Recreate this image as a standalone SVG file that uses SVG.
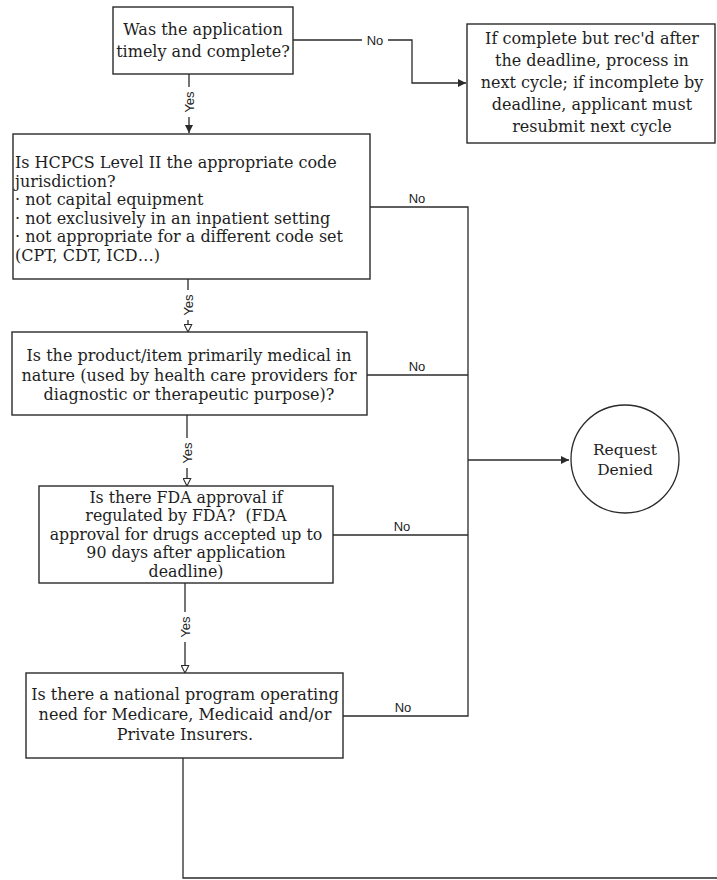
<svg xmlns="http://www.w3.org/2000/svg" width="717" height="880" viewBox="0 0 717 880">
<style>
.box{fill:#fff;stroke:#2a2a2a;stroke-width:1.4}
.t{font-family:"DejaVu Serif","Liberation Serif",serif;font-size:16px;fill:#1e1e1e}
.c{text-anchor:middle}
.lbl{font-family:"Liberation Sans",Arial,sans-serif;font-size:13px;fill:#222}
.ln{fill:none;stroke:#2a2a2a;stroke-width:1.3}
</style>
<defs>
<marker id="af" viewBox="0 0 10 10" refX="10" refY="5" markerWidth="8" markerHeight="8" markerUnits="userSpaceOnUse" orient="auto"><path d="M0,0 L10,5 L0,10 z" fill="#2a2a2a"/></marker>
<marker id="ao" viewBox="0 0 12 12" refX="11" refY="6" markerWidth="9" markerHeight="9" markerUnits="userSpaceOnUse" orient="auto"><path d="M1,1 L11,6 L1,11 z" fill="#fff" stroke="#2a2a2a" stroke-width="1.4"/></marker>
</defs>
<rect width="717" height="880" fill="#fff"/>

<g id="connectors">
  <path class="ln" d="M293,40 H362"/>
  <path class="ln" d="M388,40 H412 V83 H466" marker-end="url(#af)"/>
  <text class="lbl c" x="375" y="45">No</text>
  <path class="ln" d="M189,74 V87"/>
  <path class="ln" d="M189,117 V133" marker-end="url(#af)"/>
  <text class="lbl c" transform="translate(194,102) rotate(-90)">Yes</text>
  <path class="ln" d="M188,279 V290"/>
  <path class="ln" d="M188,320 V332" marker-end="url(#ao)"/>
  <text class="lbl c" transform="translate(193,305) rotate(-90)">Yes</text>
  <path class="ln" d="M187,415 V438"/>
  <path class="ln" d="M187,468 V486" marker-end="url(#ao)"/>
  <text class="lbl c" transform="translate(192,453) rotate(-90)">Yes</text>
  <path class="ln" d="M185,583 V612"/>
  <path class="ln" d="M185,642 V673" marker-end="url(#ao)"/>
  <text class="lbl c" transform="translate(190,627) rotate(-90)">Yes</text>
  <path class="ln" d="M370,207 H468 V716 H343"/>
  <path class="ln" d="M367,375 H468"/>
  <path class="ln" d="M333,535 H468"/>
  <path class="ln" d="M468,460 H569" marker-end="url(#af)"/>
  <text class="lbl c" x="417" y="203">No</text>
  <text class="lbl c" x="417" y="371">No</text>
  <text class="lbl c" x="402" y="531">No</text>
  <text class="lbl c" x="403" y="712">No</text>
  <path class="ln" d="M183,758 V878 H717"/>
</g>

<g id="n1">
  <rect class="box" x="113" y="7" width="180" height="67"/>
  <text class="t c" x="203" y="35">Was the application</text>
  <text class="t c" x="203" y="57">timely and complete?</text>
</g>

<g id="n2">
  <rect class="box" x="467" y="24" width="248" height="119"/>
  <text class="t c" x="592" y="44">If complete but rec'd after</text>
  <text class="t c" x="592" y="66">the deadline, process in</text>
  <text class="t c" x="592" y="88">next cycle; if incomplete by</text>
  <text class="t c" x="592" y="110">deadline, applicant must</text>
  <text class="t c" x="592" y="132">resubmit next cycle</text>
</g>

<g id="n3">
  <rect class="box" x="13" y="134" width="357" height="145"/>
  <text class="t" x="15" y="168">Is HCPCS Level II the appropriate code</text>
  <text class="t" x="15" y="186.6">jurisdiction?</text>
  <text class="t" x="15" y="205.2">· not capital equipment</text>
  <text class="t" x="15" y="223.8">· not exclusively in an inpatient setting</text>
  <text class="t" x="15" y="242.4">· not appropriate for a different code set</text>
  <text class="t" x="15" y="261">(CPT, CDT, ICD…)</text>
</g>

<g id="n4">
  <rect class="box" x="12" y="332" width="355" height="83"/>
  <text class="t c" x="189" y="361">Is the product/item primarily medical in</text>
  <text class="t c" x="189" y="381">nature (used by health care providers for</text>
  <text class="t c" x="189" y="400">diagnostic or therapeutic purpose)?</text>
</g>

<g id="n5">
  <rect class="box" x="39" y="486" width="294" height="97"/>
  <text class="t c" x="186" y="503" style="font-size:15.8px">Is there FDA approval if</text>
  <text class="t c" x="186" y="521.4" style="font-size:15.8px">regulated by FDA?&#160; (FDA</text>
  <text class="t c" x="186" y="539.8" style="font-size:15.8px">approval for drugs accepted up to</text>
  <text class="t c" x="186" y="558.2" style="font-size:15.8px">90 days after application</text>
  <text class="t c" x="186" y="576.6" style="font-size:15.8px">deadline)</text>
</g>

<g id="n6">
  <rect class="box" x="26" y="673" width="317" height="85"/>
  <text class="t c" x="185" y="700">Is there a national program operating</text>
  <text class="t c" x="185" y="720">need for Medicare, Medicaid and/or</text>
  <text class="t c" x="185" y="740">Private Insurers.</text>
</g>

<g id="n7">
  <circle cx="625" cy="459" r="54" fill="#fff" stroke="#2a2a2a" stroke-width="1.3"/>
  <text class="t c" x="625" y="455" style="font-size:15.5px">Request</text>
  <text class="t c" x="625" y="475" style="font-size:15.5px">Denied</text>
</g>
</svg>
